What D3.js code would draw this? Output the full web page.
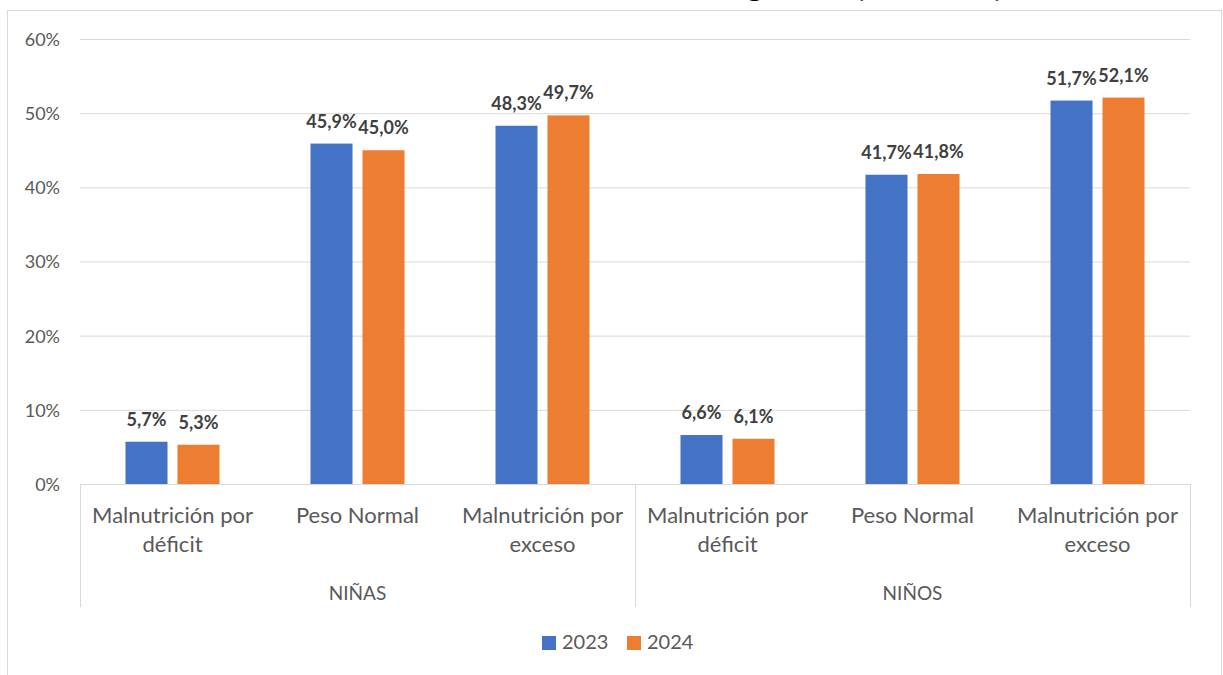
<!DOCTYPE html>
<html>
<head>
<meta charset="utf-8">
<style>
body { margin: 0; background: #fff; }
text { font-family: Lato, "Open Sans", sans-serif; fill: #595959; }
.grid line { stroke: #d9d9d9; stroke-width: 1px; }
.lbl { font-weight: 700; fill: #404040; font-size: 18px; }
</style>
</head>
<body>
<script src="https://cdn.jsdelivr.net/npm/d3@7"></script>
<script>

var groups = ["NIÑAS", "NIÑOS"];
var categories = ["Malnutrición por déficit", "Peso Normal", "Malnutrición por exceso"];
var catLines = [["Malnutrición por", "déficit"], ["Peso Normal"], ["Malnutrición por", "exceso"]];
var years = ["2023", "2024"];
var values2023 = [0.057, 0.459, 0.483, 0.066, 0.417, 0.517];
var values2024 = [0.053, 0.450, 0.497, 0.061, 0.418, 0.521];
var yTicks = [0, 0.1, 0.2, 0.3, 0.4, 0.5, 0.6];
var colors = ["#4472c4", "#ed7d31"];

(function() {
var width = 1223, height = 675;
var pLeft = 80, pRight = 1190, pTop = 39, pBottom = 484;

var svg = d3.select("body").append("svg")
    .attr("width", width)
    .attr("height", height);

// title, cut off at the top in the original
svg.append("text")
    .attr("x", 572).attr("y", -2)
    .attr("text-anchor", "middle")
    .attr("textLength", 860).attr("lengthAdjust", "spacingAndGlyphs")
    .style("font-weight", 700).style("font-size", "19px").style("fill", "#000")
    .text("Gráfico N°1: Estado nutricional de los estudiantes según sexo (2023-2024)");

// outer frame
svg.append("rect")
    .attr("x", 7.5).attr("y", 10.5)
    .attr("width", 1214).attr("height", 700)
    .attr("fill", "none").attr("stroke", "#d9d9d9");

// flat list of cells
var cells = [];
groups.forEach(function(g, gi) {
  categories.forEach(function(c, ci) {
    var i = gi * categories.length + ci;
    cells.push({key: g + "|" + c, group: g, cat: ci, v: [values2023[i], values2024[i]]});
  });
});

var y = d3.scaleLinear().domain([0, 0.6]).range([pBottom, pTop]);
var xg = d3.scaleBand().domain(groups).range([pLeft, pRight]);
var x = d3.scaleBand().domain(cells.map(d => d.key)).range([pLeft, pRight]);
var xs = d3.scaleBand().domain(years).range([0, x.bandwidth()])
    .paddingInner(0.192).paddingOuter(0.875);

// gridlines + y labels
var yAxis = svg.append("g")
    .attr("class", "grid")
    .attr("transform", "translate(" + pLeft + ",0)")
    .call(d3.axisLeft(y).tickValues(yTicks).tickSize(-(pRight - pLeft)).tickFormat(d3.format(".0%")));
yAxis.select(".domain").remove();
yAxis.selectAll(".tick text")
    .attr("x", -20).attr("dy", "0.36em")
    .style("font-size", "18px").style("font-family", "Lato, sans-serif").attr("fill", "#595959");
yAxis.selectAll(".tick").filter(d => d === 0).select("line").remove();

// bars
var cell = svg.selectAll(".cell")
    .data(cells)
    .enter().append("g")
    .attr("class", "cell")
    .attr("transform", d => "translate(" + x(d.key) + ",0)");

cell.selectAll("rect")
    .data(d => d.v.map((v, i) => ({year: years[i], v: v, i: i})))
    .enter().append("rect")
    .attr("x", d => xs(d.year))
    .attr("width", xs.bandwidth())
    .attr("y", d => y(d.v))
    .attr("height", d => y(0) - y(d.v))
    .attr("fill", d => colors[d.i]);

cell.selectAll(".lbl")
    .data(d => d.v.map((v, i) => ({year: years[i], v: v})))
    .enter().append("text")
    .attr("class", "lbl")
    .attr("x", d => xs(d.year) + xs.bandwidth() / 2)
    .attr("y", d => y(d.v) - 16)
    .attr("text-anchor", "middle")
    .text(d => d3.format(".1f")(d.v * 100).replace(".", ",") + "%");

// category axis
var axisG = svg.append("g").attr("stroke", "#d9d9d9").attr("fill", "none");
axisG.append("line")
    .attr("x1", pLeft).attr("x2", pRight)
    .attr("y1", pBottom + 0.5).attr("y2", pBottom + 0.5);
[pLeft, xg("NIÑOS"), pRight].forEach(function(px) {
  axisG.append("line")
      .attr("x1", Math.round(px) + 0.5).attr("x2", Math.round(px) + 0.5)
      .attr("y1", pBottom).attr("y2", 607);
});

cells.forEach(function(d) {
  var t = svg.append("text")
      .attr("text-anchor", "middle")
      .style("font-size", "22px");
  catLines[d.cat].forEach(function(line, li) {
    t.append("tspan")
        .attr("x", x(d.key) + x.bandwidth() / 2)
        .attr("y", 523 + li * 29)
        .text(line);
  });
});

svg.selectAll(".grp")
    .data(groups)
    .enter().append("text")
    .attr("class", "grp")
    .attr("x", d => xg(d) + xg.bandwidth() / 2)
    .attr("y", 600)
    .attr("text-anchor", "middle")
    .style("font-size", "19px")
    .text(d => d);

// legend
var legend = svg.append("g").attr("transform", "translate(542,636)");
var li = legend.selectAll("g")
    .data(years)
    .enter().append("g")
    .attr("transform", (d, i) => "translate(" + (i * 85) + ",0)");
li.append("rect").attr("width", 14).attr("height", 14).attr("fill", (d, i) => colors[i]);
li.append("text").attr("x", 20).attr("y", 13).style("font-size", "20px").text(d => d);
})();

</script>
</body>
</html>
